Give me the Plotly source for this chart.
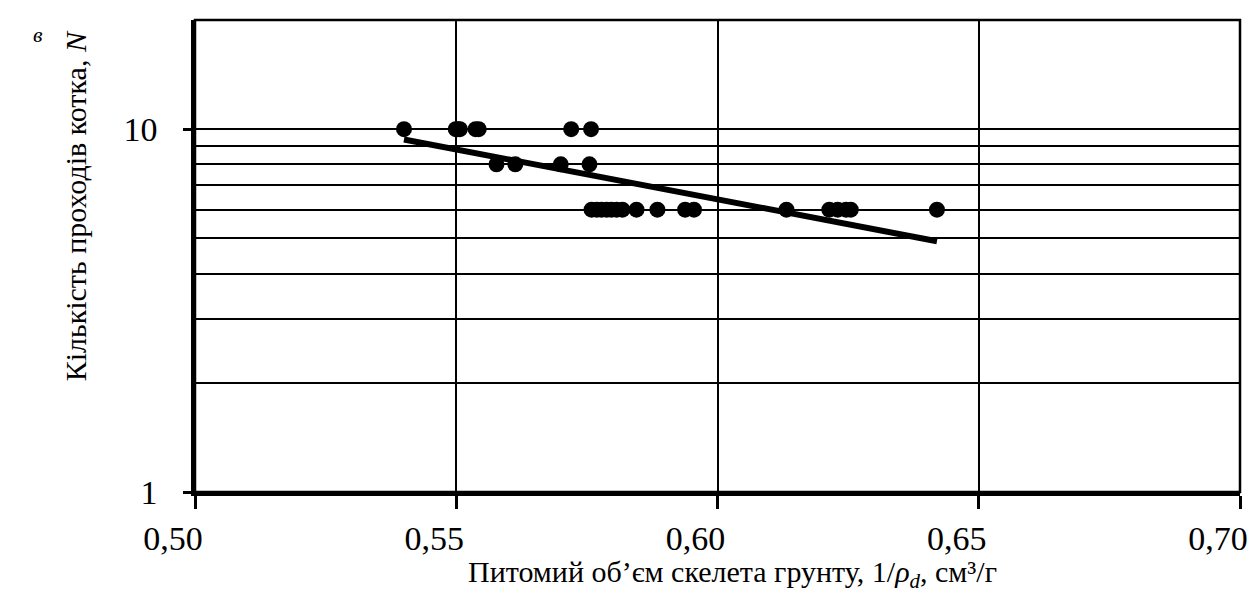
import numpy as np
import plotly.graph_objects as go

# Specific volume of soil skeleton (1/rho_d, cm3/g) and number of roller passes N
vol_n10 = [0.5400, 0.5499, 0.5503, 0.5507, 0.5537, 0.5543, 0.5720, 0.5758]
vol_n8 = [0.5577, 0.5613, 0.5700, 0.5755]
vol_n6 = [0.5759, 0.5769, 0.5778, 0.5788, 0.5797, 0.5807, 0.5818, 0.5845,
          0.5885, 0.5938, 0.5955, 0.6132, 0.6214, 0.6230, 0.6246, 0.6255, 0.6420]
passes = [10, 8, 6]

x_ticks = [0.50, 0.55, 0.60, 0.65, 0.70]
x_tick_text = ["0,50", "0,55", "0,60", "0,65", "0,70"]
y_ticks = [1, 10]
y_minor = [2, 3, 4, 5, 6, 7, 8, 9]

x_pts = np.array(vol_n10 + vol_n8 + vol_n6)
y_pts = np.array([passes[0]] * len(vol_n10) + [passes[1]] * len(vol_n8)
                 + [passes[2]] * len(vol_n6), dtype=float)

# exponential trend line: log10(N) linear in 1/rho_d
slope, intercept = np.polyfit(x_pts, np.log10(y_pts), 1)
x_fit = np.array([x_pts.min(), x_pts.max()])
y_fit = 10 ** (slope * x_fit + intercept)

FONT = "Liberation Serif"

fig = go.Figure()
fig.add_trace(go.Scatter(x=x_fit, y=y_fit, mode="lines",
                         line=dict(color="black", width=6), hoverinfo="skip"))
fig.add_trace(go.Scatter(x=x_pts, y=y_pts, mode="markers",
                         marker=dict(color="black", size=16, symbol="circle")))

fig.update_layout(
    width=1260, height=594,
    margin=dict(l=194.5, r=13, t=20, b=102),
    paper_bgcolor="white", plot_bgcolor="white",
    showlegend=False,
    font=dict(family=FONT, color="black"),
    xaxis=dict(
        range=[0.50, 0.70],
        tickvals=x_ticks, ticktext=x_tick_text,
        tickfont=dict(size=34, family=FONT),
        ticklabelshift=-22,
        ticklabeloverflow="allow",
        ticks="outside", ticklen=13, tickwidth=3, tickcolor="black",
        showgrid=True, gridcolor="black", gridwidth=2,
        showline=True, linecolor="black", linewidth=3.5,
        zeroline=False,
    ),
    yaxis=dict(
        type="log",
        range=[0, np.log10(20)],
        tickvals=y_ticks, ticktext=["1", "10"],
        tickfont=dict(size=34, family=FONT),
        ticks="outside", ticklen=8, tickwidth=3, tickcolor="black",
        ticklabelstandoff=19,
        showgrid=True, gridcolor="black", gridwidth=2,
        minor=dict(tickvals=y_minor, showgrid=True, gridcolor="black",
                   gridwidth=2, ticks=""),
        showline=True, linecolor="black", linewidth=3.5,
        zeroline=False,
    ),
    shapes=[dict(type="rect", xref="paper", yref="paper", x0=0, y0=0, x1=1, y1=1,
                 line=dict(color="black", width=2.5), layer="above")],
    annotations=[
        # axis titles
        dict(text="Питомий об’єм скелета грунту, 1/<i>ρ<sub>d</sub></i>, см³/г",
             xref="paper", yref="paper", x=0.5145, y=-0.173,
             showarrow=False, xanchor="center", yanchor="middle",
             font=dict(size=30, family=FONT)),
        dict(text="Кількість проходів котка, <i>N</i>",
             xref="paper", yref="paper", x=-0.1135, y=0.606, textangle=-90,
             showarrow=False, xanchor="center", yanchor="middle",
             font=dict(size=30, family=FONT)),
        # panel letter
        dict(text="<i>в</i>", xref="paper", yref="paper",
             x=-0.150, y=0.97, showarrow=False,
             xanchor="center", yanchor="middle",
             font=dict(size=22, family=FONT)),
    ],
)

fig.write_html("out.html")
